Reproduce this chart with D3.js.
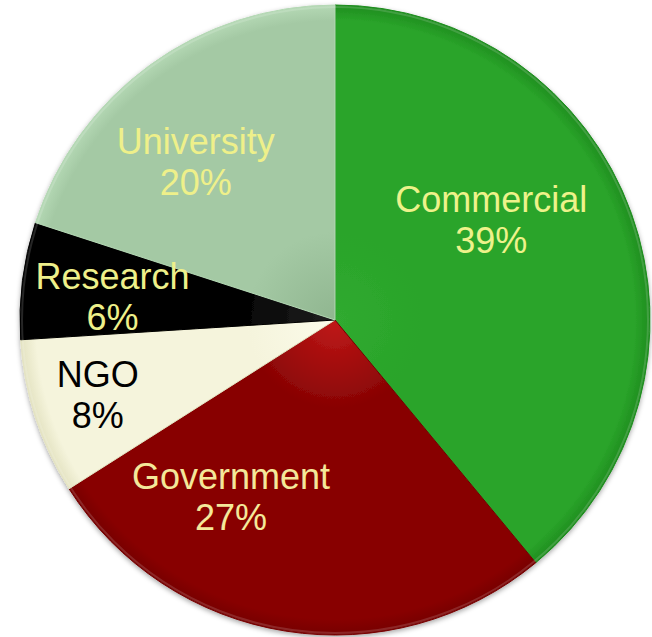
<!DOCTYPE html>
<html>
<head>
<meta charset="utf-8">
<script src="https://cdn.jsdelivr.net/npm/d3@7"></script>
<style>
  html, body { margin: 0; padding: 0; background: #ffffff; }
  svg { display: block; }
</style>
</head>
<body>
<svg id="chart" width="652" height="637"></svg>
<script>
// ---- data ----
const categories = ["Commercial", "Government", "NGO", "Research", "University"];
const values = [39, 27, 8, 6, 20];
const percentLabels = ["39%", "27%", "8%", "6%", "20%"];

// ---- styles ----
const sliceColors = {
  Commercial: ["#30aa30", "#2aa42a", "#1f8d1f"],
  Government: ["#c01818", "#880404", "#760000"],
  NGO:        ["#fbfbea", "#f5f4dc", "#e4e3c2"],
  Research:   ["#202020", "#050505", "#000000"],
  University: ["#90b690", "#a4c9a4", "#b4d8b4"]
};
const labelColors = {
  Commercial: "#eef28a", Government: "#f4e89a", NGO: "#000000",
  Research: "#eef08a", University: "#eef08a"
};
// label placement: [angle offset (deg) from slice mid, radius factor]
const labelLayout = {
  Commercial: [-13, 0.59],
  Government: [21.5, 0.65],
  NGO:        [0.5, 0.79],
  Research:   [-1.3, 0.71],
  University: [-5.3, 0.67]
};

const W = 652, H = 637;
const cx = 335, cy = 320, R = 315;
const fontSize = 36, lineGap = 41;

const svg = d3.select("#chart");
const defs = svg.append("defs");

const shadow = defs.append("filter").attr("id", "shadow")
  .attr("x", "-10%").attr("y", "-10%").attr("width", "120%").attr("height", "120%");
shadow.append("feDropShadow").attr("dx", 0).attr("dy", 2).attr("stdDeviation", 2.5)
  .attr("flood-color", "#000").attr("flood-opacity", 0.35);

categories.forEach((c, i) => {
  const g = defs.append("radialGradient").attr("id", "grad" + i)
    .attr("gradientUnits", "userSpaceOnUse")
    .attr("cx", 0).attr("cy", 0).attr("r", R);
  const cols = sliceColors[c];
  g.append("stop").attr("offset", "0%").attr("stop-color", cols[0]);
  g.append("stop").attr("offset", "28%").attr("stop-color", cols[1]);
  g.append("stop").attr("offset", "95%").attr("stop-color", cols[1]);
  g.append("stop").attr("offset", "100%").attr("stop-color", cols[2]);
});

const data = categories.map((c, i) => ({ name: c, value: values[i], pct: percentLabels[i], idx: i }));

const pie = d3.pie().value(d => d.value).sort(null);
const arcs = pie(data);
const arc = d3.arc().innerRadius(0).outerRadius(R);

const root = svg.append("g").attr("transform", `translate(${cx},${cy})`);
const slices = root.append("g").attr("filter", "url(#shadow)");

slices.selectAll("path")
  .data(arcs)
  .enter().append("path")
  .attr("d", arc)
  .attr("fill", d => `url(#grad${d.data.idx})`)
  .attr("stroke", d => sliceColors[d.data.name][2])
  .attr("stroke-width", 1);

// subtle highlight ring
root.append("circle").attr("r", R - 2).attr("fill", "none")
  .attr("stroke", "rgba(255,255,255,0.15)").attr("stroke-width", 2);

const labels = root.append("g")
  .attr("font-family", "'Liberation Sans', Arial, Helvetica, sans-serif")
  .attr("font-size", fontSize)
  .attr("text-anchor", "middle");

arcs.forEach(a => {
  const lay = labelLayout[a.data.name];
  const mid = (a.startAngle + a.endAngle) / 2 + lay[0] * Math.PI / 180;
  const rr = R * lay[1];
  const x = Math.sin(mid) * rr;
  const y = -Math.cos(mid) * rr;
  const t = labels.append("text")
    .attr("fill", labelColors[a.data.name])
    .attr("transform", `translate(${x},${y})`);
  t.append("tspan").attr("x", 0).attr("y", -lineGap / 2 + fontSize * 0.36).text(a.data.name);
  t.append("tspan").attr("x", 0).attr("y", lineGap / 2 + fontSize * 0.36).text(a.data.pct);
});
</script>
</body>
</html>
